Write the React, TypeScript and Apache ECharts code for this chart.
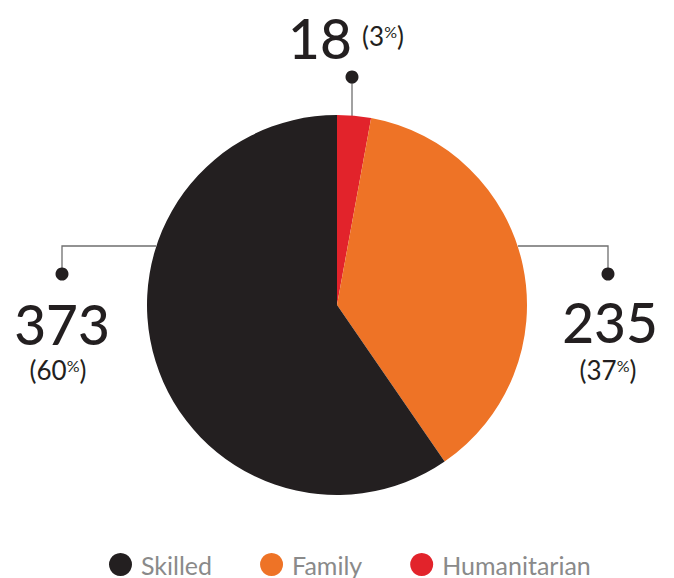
import React, { useEffect, useRef } from "react";
import * as echarts from "echarts";

const categories = ["Humanitarian", "Family", "Skilled"];
const values = [18, 235, 373];
const pctLabels = [3, 37, 60];
const colors = ["#e2232b", "#ee7326", "#231f20"];
const legendOrder = ["Skilled", "Family", "Humanitarian"];

const FONT = "Lato, 'Noto Sans', sans-serif";

export default function App() {
  const ref = useRef<HTMLDivElement>(null);
  useEffect(() => {
    if (!ref.current) return;
    const chart = echarts.init(ref.current, undefined, { renderer: "svg" });
    const lineStyle = { stroke: "#6f6f6f", lineWidth: 1.3 };
    const dot = (x: number, y: number) => ({
      type: "circle",
      shape: { cx: x, cy: y, r: 6.5 },
      style: { fill: "#231f20" },
      z: 10,
    });
    const big = (text: string, x: number, y: number, align: string) => ({
      type: "text",
      x,
      y,
      style: {
        text,
        fontSize: 55,
        lineHeight: 44,
        fontFamily: FONT,
        fontWeight: 500,
        fill: "#231f20",
        align,
        verticalAlign: "middle",
      },
      z: 10,
    });
    const pct = (p: number, x: number, y: number, align: string) => ({
      type: "text",
      x,
      y,
      style: {
        text: "(" + p + "{s|%})",
        fontSize: 26,
        lineHeight: 26,
        fontFamily: FONT,
        fill: "#231f20",
        align,
        verticalAlign: "middle",
        rich: { s: { fontSize: 16, lineHeight: 16, fontFamily: FONT, fill: "#231f20", verticalAlign: "top" } },
      },
      z: 10,
    });
    chart.setOption({
      animation: false,
      backgroundColor: "#ffffff",
      color: colors,
      legend: {
        data: legendOrder,
        left: 104,
        top: 547,
        icon: "circle",
        itemWidth: 23,
        itemHeight: 23,
        itemGap: 48,
        textStyle: { fontSize: 25, lineHeight: 24, fontFamily: FONT, color: "#8a8a8a", padding: [0, 0, 0, 4] },
      },
      series: [
        {
          type: "pie",
          center: [337, 305],
          radius: 190,
          startAngle: 90,
          clockwise: true,
          label: { show: false },
          labelLine: { show: false },
          silent: true,
          data: categories.map((name, i) => ({ name, value: values[i], itemStyle: { color: colors[i] } })),
        },
      ],
      graphic: [
        { type: "line", shape: { x1: 352, y1: 77, x2: 352, y2: 116 }, style: lineStyle },
        dot(352, 77),
        big(String(values[0]), 320, 38, "center"),
        pct(pctLabels[0], 383, 36, "center"),
        { type: "polyline", shape: { points: [[156, 246], [62, 246], [62, 274]] }, style: { ...lineStyle, fill: null } },
        dot(62, 274),
        big(String(values[2]), 62, 324, "center"),
        pct(pctLabels[2], 58, 370, "center"),
        { type: "polyline", shape: { points: [[518, 246], [608, 246], [608, 274]] }, style: { ...lineStyle, fill: null } },
        dot(608, 274),
        big(String(values[1]), 610, 322, "center"),
        pct(pctLabels[1], 608, 370, "center"),
      ],
    });
    return () => chart.dispose();
  }, []);
  return <div ref={ref} style={{ position: "fixed", left: 0, top: 0, width: 674, height: 578 }} />;
}
